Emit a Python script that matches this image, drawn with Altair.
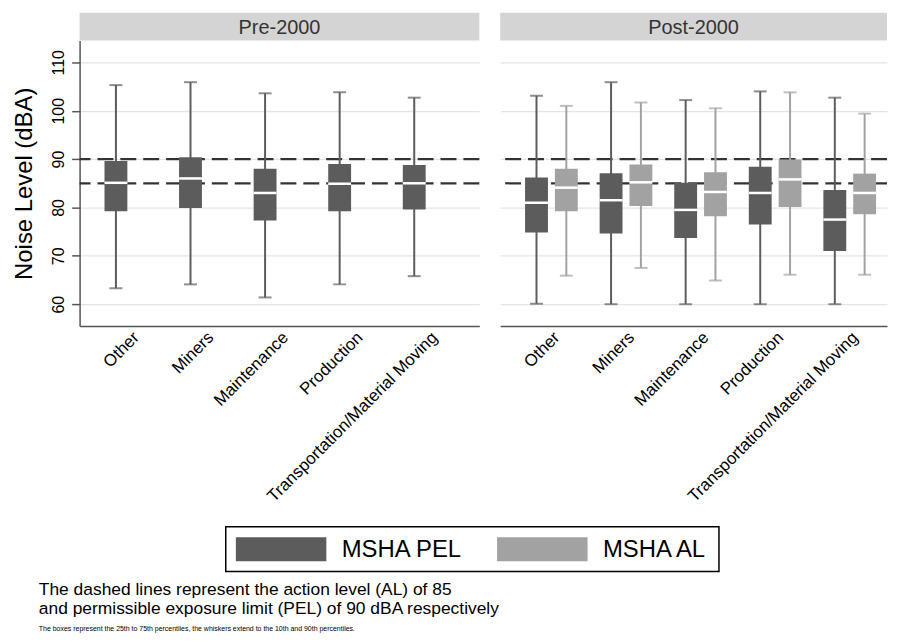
import altair as alt
import pandas as pd

# ---------------- data ----------------
categories = ["Other", "Miners", "Maintenance", "Production", "Transportation/Material Moving"]
groups = ["MSHA PEL", "MSHA AL"]
periods = ["Pre-2000", "Post-2000"]
ref_levels = [85, 90]
y_ticks = [60, 70, 80, 90, 100, 110]

# Pre-2000 (MSHA PEL only)
pre_p10 = [63.3, 64.1, 61.4, 64.1, 65.8]
pre_p25 = [79.2, 79.9, 77.3, 79.2, 79.6]
pre_med = [85.1, 86.0, 83.0, 84.9, 85.0]
pre_p75 = [89.6, 90.4, 88.0, 89.0, 88.8]
pre_p90 = [105.3, 105.9, 103.6, 103.8, 102.7]

# Post-2000, MSHA PEL
pel_p10 = [60.1, 60.0, 60.0, 60.0, 60.0]
pel_p25 = [74.8, 74.6, 73.7, 76.5, 71.0]
pel_med = [81.0, 81.5, 79.5, 83.0, 77.5]
pel_p75 = [86.2, 87.1, 85.1, 88.4, 83.6]
pel_p90 = [103.1, 105.9, 102.2, 104.0, 102.7]

# Post-2000, MSHA AL
al_p10 = [65.9, 67.5, 64.9, 66.1, 66.1]
al_p25 = [79.2, 80.3, 78.2, 80.1, 78.6]
al_med = [84.1, 85.2, 83.2, 85.8, 83.0]
al_p75 = [88.0, 88.9, 87.3, 89.9, 87.0]
al_p90 = [101.0, 101.7, 100.5, 103.8, 99.4]

note_lines = ["The dashed lines represent the action level (AL) of 85",
              "and permissible exposure limit (PEL) of 90 dBA respectively"]
note_small = "The boxes represent the 25th to 75th percentiles, the whiskers extend to the 10th and 90th percentiles."


def frame(group, p10, p25, med, p75, p90):
    return pd.DataFrame({"cat": categories, "group": group, "p10": p10, "p25": p25,
                         "med": med, "p75": p75, "p90": p90})


pre_df = frame(groups[0], pre_p10, pre_p25, pre_med, pre_p75, pre_p90)
post_df = pd.concat([frame(groups[0], pel_p10, pel_p25, pel_med, pel_p75, pel_p90),
                     frame(groups[1], al_p10, al_p25, al_med, al_p75, al_p90)], ignore_index=True)
ref_df = pd.DataFrame({"level": ref_levels})
legend_df = pd.DataFrame({"group": groups})

# ---------------- styling ----------------
FONT = "Liberation Sans"
DARK = "#5c5c5c"
LIGHT = "#a2a2a2"
Y_DOMAIN = [55.5, 114.5]
PLOT_H = 287
STRIP_H = 28


def panel(df, title, width, left_axis, pad_outer, align):
    x = alt.X("cat:N", sort=categories,
              scale=alt.Scale(paddingInner=0, paddingOuter=pad_outer, align=align),
              axis=alt.Axis(title=None, labelAngle=-45, labelFontSize=17, labelColor="#000",
                            ticks=False, tickSize=0, domainColor="#555", domainWidth=1.5,
                            labelPadding=3, labelLimit=0, grid=False))
    xo = alt.XOffset("group:N", sort=groups,
                     scale=alt.Scale(domain=groups, paddingInner=0, paddingOuter=0.25))
    if left_axis:
        yaxis = alt.Axis(title="Noise Level (dBA)", titleFontSize=24, titleFontWeight="normal",
                         titleColor="#000", titlePadding=14, values=y_ticks,
                         labelAngle=-90, labelAlign="center", labelBaseline="bottom",
                         labelFontSize=16, labelColor="#000", labelPadding=5,
                         tickSize=8, tickColor="#555", tickWidth=1.5,
                         domainColor="#555", domainWidth=1.5,
                         grid=True, gridColor="#e4e4e4", gridWidth=1.2)
    else:
        yaxis = alt.Axis(title=None, values=y_ticks, labels=False, ticks=False, domain=False,
                         grid=True, gridColor="#e4e4e4", gridWidth=1.2)
    yscale = alt.Scale(domain=Y_DOMAIN, nice=False, zero=False)
    color = alt.Color("group:N", scale=alt.Scale(domain=groups, range=[DARK, LIGHT]), legend=None)

    def Y(field):
        return alt.Y(field, type="quantitative", scale=yscale, axis=yaxis)

    base = alt.Chart(df)
    dashed = alt.Chart(ref_df).mark_rule(strokeDash=[16, 7], strokeWidth=2.2, color="#333").encode(
        y=Y("level"))
    whisk = base.mark_rule(strokeWidth=2).encode(x=x, xOffset=xo, y=Y("p10"), y2="p90:Q", color=color)
    cap_lo = base.mark_tick(thickness=2, size=13).encode(x=x, xOffset=xo, y=Y("p10"), color=color)
    cap_hi = base.mark_tick(thickness=2, size=13).encode(x=x, xOffset=xo, y=Y("p90"), color=color)
    box = base.mark_bar(width=23).encode(x=x, xOffset=xo, y=Y("p25"), y2="p75:Q", color=color)
    med = base.mark_tick(thickness=2.5, size=23, color="white", opacity=1).encode(
        x=x, xOffset=xo, y=Y("med"))
    plot = alt.layer(dashed, whisk, cap_lo, cap_hi, box, med).properties(width=width, height=PLOT_H)

    strip = alt.Chart(pd.DataFrame({"period": [title]})).mark_text(
        fontSize=20, color="#333", font=FONT, baseline="middle", dy=1).encode(
        text="period:N").properties(width=width, height=STRIP_H,
                                    view=alt.ViewBackground(fill="#d4d4d4", stroke=None))
    return alt.vconcat(strip, plot, spacing=0)


left = panel(pre_df, periods[0], 402, True, 0.18, 0.52)
right = panel(post_df, periods[1], 389, False, 0.0933, 1)
top = alt.hconcat(left, right, spacing=17)

# legend drawn as its own small chart
lx = alt.X("group:N", sort=groups, scale=alt.Scale(type="point", padding=0.444), axis=None)
swatch = alt.Chart(legend_df).mark_point(
    shape="M-1,-0.264H1V0.264H-1Z", size=8281, filled=True, opacity=1, xOffset=-61).encode(
    x=lx, y=alt.value(22.5),
    color=alt.Color("group:N", scale=alt.Scale(domain=groups, range=[DARK, LIGHT]), legend=None))
ltext = alt.Chart(legend_df).mark_text(align="left", baseline="middle", fontSize=24, font=FONT,
                                       color="#000").encode(x=lx, y=alt.value(23.5), text="group:N")
legend = alt.layer(swatch, ltext).properties(
    width=496, height=45, view=alt.ViewBackground(stroke="black", strokeWidth=1.5))
spacer = alt.Chart(legend_df).mark_point(opacity=0).encode(
    x=alt.value(0), y=alt.value(0)).properties(width=146, height=45,
                                              view=alt.ViewBackground(stroke=None))
bottom = alt.hconcat(spacer, legend, spacing=0)

chart = alt.vconcat(top, bottom, spacing=19).properties(
    padding={"left": 5, "top": 3, "right": 0, "bottom": 0},
    title=alt.TitleParams(text=note_lines, subtitle=[note_small], orient="bottom", anchor="start",
                          fontSize=17.5, lineHeight=19, fontWeight="normal", color="#000", font=FONT,
                          subtitleFont=FONT, subtitleFontSize=7, subtitleColor="#000",
                          subtitlePadding=8, offset=9, dx=26)
).configure(font=FONT).configure_view(stroke=None).configure_axisLeft(
    labelAngle=-90, labelAlign="center", labelBaseline="bottom")

chart.save("out.html", embed_options={"renderer": "svg", "actions": False})
